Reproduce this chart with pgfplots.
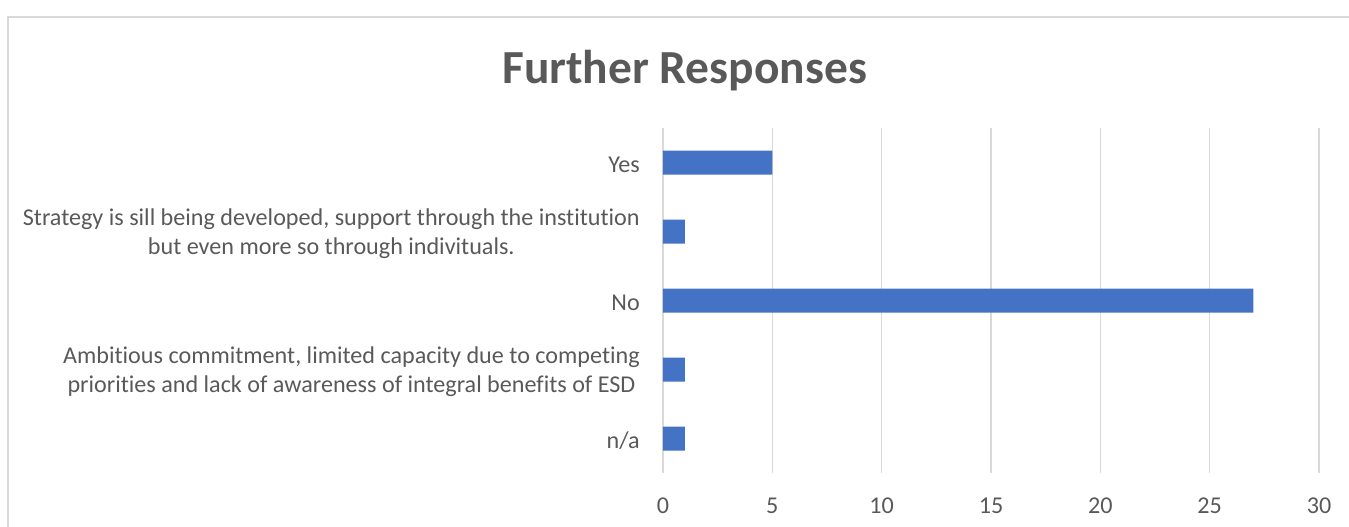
\documentclass[border=0pt]{standalone}
\usepackage{pgfplots}
\pgfplotsset{compat=1.18}
\usepackage{fontspec}
\setmainfont[Ligatures=NoCommon]{Carlito}
\definecolor{barblue}{HTML}{4472C4}
\definecolor{gridgray}{HTML}{D9D9D9}
\definecolor{txtgray}{HTML}{595959}
\begin{document}
\begin{tikzpicture}
\useasboundingbox (0,0) rectangle (1011.75pt,395.25pt);
\clip (0,0) rectangle (1011.75pt,395.25pt);
\draw[gridgray, line width=1pt] (6pt,-20pt) rectangle (1040pt,382.5pt);
\node[anchor=base, text=txtgray, font=\fontsize{35.6}{42}\selectfont\bfseries, inner sep=0pt] at (513.5pt,332.5pt) {Further Responses};
\begin{axis}[
 at={(497.25pt,40.5pt)}, anchor=south west,
 scale only axis, width=492pt, height=258.75pt,
 xbar, bar width=18pt,
 xmin=0, xmax=30, ymin=-0.5, ymax=4.5, y dir=reverse,
 xtick={0,5,...,30}, ytick={0,1,2,3,4},
 yticklabels={{Yes},{Strategy is sill being developed, support through the institution\\but even more so through indivituals.},{No},{Ambitious commitment, limited capacity due to competing\\priorities and lack of awareness of integral benefits of ESD},{n/a}},
 axis line style={draw=none}, major tick length=0pt,
 xmajorgrids, grid style={gridgray, line width=1.1pt},
 tick label style={text=txtgray, font=\fontsize{18.1}{21.5}\selectfont},
 yticklabel style={align=center, anchor=east, inner sep=0pt, xshift=-17.25pt, yshift=-1.8pt},
 xticklabel style={anchor=base, inner sep=0pt, yshift=-30.4pt},
 /pgf/number format/assume math mode=true,
]
\addplot[fill=barblue, draw=none] coordinates {(5,0) (1,1) (27,2) (1,3) (1,4)};
\end{axis}
\end{tikzpicture}
\end{document}
